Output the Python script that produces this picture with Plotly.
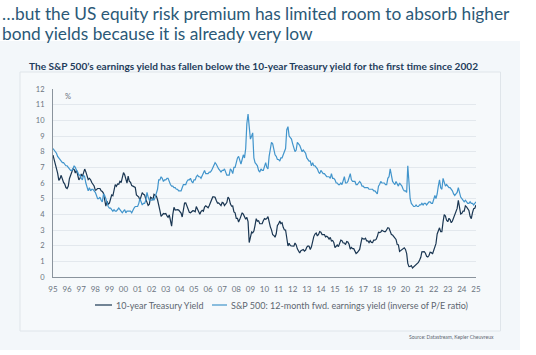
import plotly.graph_objects as go

# ---------------- data (monthly, Jan 1995 - Jan 2025) ----------------
treasury_10y = [
    # 1995
    7.78, 7.47, 7.20, 7.06, 6.63, 6.17, 6.28, 6.49, 6.20, 6.04, 5.93, 5.71,
    # 1996
    5.65, 5.81, 6.27, 6.51, 6.74, 6.91, 6.87, 6.64, 6.83, 6.53, 6.20, 6.30,
    # 1997
    6.58, 6.42, 6.69, 6.89, 6.71, 6.49, 6.22, 6.30, 6.21, 6.03, 5.88, 5.81,
    # 1998
    5.54, 5.57, 5.65, 5.64, 5.65, 5.50, 5.46, 5.34, 4.81, 4.53, 4.83, 4.65,
    # 1999
    4.72, 5.00, 5.23, 5.18, 5.54, 5.90, 5.79, 5.94, 5.92, 6.11, 6.03, 6.28,
    # 2000
    6.66, 6.52, 6.26, 5.99, 6.44, 6.10, 6.05, 5.83, 5.80, 5.74, 5.72, 5.24,
    # 2001
    5.16, 5.10, 4.89, 5.14, 5.39, 5.28, 5.24, 4.97, 4.73, 4.57, 4.65, 5.09,
    # 2002
    5.04, 4.91, 5.28, 5.21, 5.16, 4.93, 4.65, 4.26, 3.87, 3.94, 4.05, 4.03,
    # 2003
    4.05, 3.90, 3.81, 3.96, 3.57, 3.25, 3.98, 4.45, 4.27, 4.29, 4.30, 4.27,
    # 2004
    4.15, 4.08, 3.83, 4.35, 4.72, 4.73, 4.50, 4.28, 4.13, 4.10, 4.19, 4.23,
    # 2005
    4.22, 4.17, 4.50, 4.34, 4.14, 4.00, 4.18, 4.26, 4.20, 4.46, 4.54, 4.47,
    # 2006
    4.42, 4.57, 4.72, 4.99, 5.11, 5.11, 5.09, 4.88, 4.72, 4.73, 4.60, 4.56,
    # 2007
    4.76, 4.72, 4.56, 4.69, 4.75, 5.10, 5.00, 4.67, 4.52, 4.53, 4.15, 4.10,
    # 2008
    3.74, 3.74, 3.51, 3.68, 3.88, 4.10, 4.01, 3.89, 3.69, 3.81, 3.53, 2.20,
    # 2009
    2.52, 2.87, 2.82, 2.93, 3.29, 3.72, 3.56, 3.59, 3.40, 3.39, 3.40, 3.59,
    # 2010
    3.73, 3.69, 3.73, 3.85, 3.42, 3.20, 3.01, 2.70, 2.65, 2.54, 2.76, 3.29,
    # 2011
    3.39, 3.58, 3.41, 3.46, 3.17, 3.00, 3.00, 2.30, 1.98, 2.15, 2.01, 1.98,
    # 2012
    1.97, 1.97, 2.17, 2.05, 1.80, 1.62, 1.53, 1.68, 1.72, 1.75, 1.65, 1.72,
    # 2013
    1.91, 1.98, 1.96, 1.76, 1.93, 2.30, 2.58, 2.74, 2.81, 2.62, 2.72, 2.90,
    # 2014
    2.86, 2.71, 2.72, 2.71, 2.56, 2.60, 2.54, 2.42, 2.53, 2.30, 2.33, 2.21,
    # 2015
    1.88, 1.98, 2.04, 1.94, 2.20, 2.36, 2.32, 2.17, 2.17, 2.07, 2.26, 2.24,
    # 2016
    2.09, 1.78, 1.89, 1.81, 1.81, 1.64, 1.50, 1.56, 1.63, 1.76, 2.14, 2.49,
    # 2017
    2.43, 2.42, 2.48, 2.30, 2.30, 2.19, 2.32, 2.21, 2.20, 2.36, 2.35, 2.40,
    # 2018
    2.58, 2.86, 2.84, 2.87, 2.98, 2.91, 2.89, 2.89, 3.00, 3.15, 3.12, 2.83,
    # 2019
    2.71, 2.68, 2.57, 2.53, 2.40, 2.07, 2.06, 1.63, 1.70, 1.71, 1.81, 1.86,
    # 2020
    1.76, 1.50, 0.87, 0.66, 0.67, 0.73, 0.58, 0.65, 0.68, 0.79, 0.87, 0.93,
    # 2021
    1.08, 1.26, 1.61, 1.64, 1.62, 1.52, 1.32, 1.28, 1.37, 1.58, 1.56, 1.47,
    # 2022
    1.76, 1.93, 2.13, 2.75, 2.90, 3.14, 2.90, 2.90, 3.52, 3.98, 3.89, 3.62,
    # 2023
    3.53, 3.75, 3.66, 3.46, 3.57, 3.75, 3.90, 4.17, 4.38, 4.90, 4.50, 4.02,
    # 2024
    4.06, 4.21, 4.21, 4.54, 4.48, 4.31, 4.25, 3.87, 3.72, 4.10, 4.36, 4.39,
    # 2025
    4.60,
]

sp500_earnings_yield = [
    # 1995
    8.2, 8.1, 8.0, 7.9, 7.7, 7.6, 7.5, 7.4, 7.3, 7.3, 7.2, 7.1,
    # 1996
    7.1, 7.0, 6.9, 6.8, 6.8, 6.9, 7.1, 7.0, 6.8, 6.7, 6.5, 6.5,
    # 1997
    6.3, 6.2, 6.5, 6.4, 6.0, 5.8, 5.5, 5.7, 5.5, 5.6, 5.6, 5.5,
    # 1998
    5.4, 5.2, 5.0, 5.0, 5.1, 4.9, 4.8, 5.3, 5.2, 5.0, 4.7, 4.5,
    # 1999
    4.4, 4.4, 4.3, 4.2, 4.3, 4.2, 4.2, 4.3, 4.4, 4.3, 4.2, 4.1,
    # 2000
    4.2, 4.3, 4.1, 4.2, 4.2, 4.2, 4.2, 4.1, 4.3, 4.4, 4.5, 4.5,
    # 2001
    4.5, 4.7, 5.0, 4.8, 4.6, 4.7, 4.7, 4.9, 5.4, 5.1, 4.9, 4.9,
    # 2002
    4.9, 5.0, 4.9, 5.1, 5.3, 5.6, 6.2, 6.2, 6.4, 6.3, 6.1, 6.2,
    # 2003
    6.2, 6.3, 6.3, 6.0, 5.9, 5.8, 5.8, 5.7, 5.7, 5.6, 5.6, 5.5,
    # 2004
    5.5, 5.5, 5.7, 5.9, 5.9, 5.9, 6.1, 6.2, 6.2, 6.3, 6.1, 6.0,
    # 2005
    6.2, 6.2, 6.4, 6.5, 6.4, 6.4, 6.3, 6.5, 6.6, 6.8, 6.6, 6.6,
    # 2006
    6.6, 6.7, 6.7, 6.8, 7.0, 7.1, 7.3, 7.2, 7.0, 6.9, 6.8, 6.7,
    # 2007
    6.8, 6.8, 6.9, 6.6, 6.5, 6.5, 6.5, 6.9, 6.8, 6.6, 7.0, 7.0,
    # 2008
    7.4, 7.6, 7.7, 7.4, 7.2, 7.5, 7.8, 7.6, 8.2, 9.8, 10.4, 9.6,
    # 2009
    8.8, 9.0, 9.2, 7.6, 7.3, 7.2, 7.1, 6.8, 6.7, 6.9, 6.8, 6.8,
    # 2010
    7.1, 7.3, 7.0, 6.9, 7.7, 8.2, 8.6, 8.5, 8.1, 7.8, 7.7, 7.5,
    # 2011
    7.5, 7.4, 7.6, 7.6, 7.8, 8.1, 8.2, 9.4, 9.6, 9.0, 8.9, 8.8,
    # 2012
    8.5, 8.2, 8.0, 8.1, 8.6, 8.5, 8.4, 8.2, 8.0, 8.1, 8.0, 7.9,
    # 2013
    7.6, 7.5, 7.4, 7.4, 7.1, 7.3, 7.1, 7.1, 7.0, 6.9, 6.7, 6.6,
    # 2014
    6.8, 6.7, 6.6, 6.6, 6.5, 6.4, 6.4, 6.4, 6.3, 6.6, 6.3, 6.3,
    # 2015
    6.2, 6.0, 6.0, 5.9, 5.9, 6.0, 5.9, 6.2, 6.4, 6.0, 6.0, 6.1,
    # 2016
    6.4, 6.6, 6.2, 6.1, 6.1, 6.1, 5.9, 5.9, 6.0, 6.1, 6.0, 5.8,
    # 2017
    5.8, 5.7, 5.7, 5.7, 5.7, 5.6, 5.6, 5.6, 5.6, 5.5, 5.5, 5.4,
    # 2018
    5.3, 5.8, 5.9, 6.1, 6.0, 6.0, 6.0, 5.9, 5.9, 6.3, 6.4, 6.9,
    # 2019
    6.4, 6.1, 6.0, 5.9, 6.1, 5.9, 5.8, 6.0, 5.9, 5.8, 5.6, 5.5,
    # 2020
    5.5, 5.4, 7.1, 5.6, 5.0, 4.7, 4.6, 4.5, 4.5, 4.6, 4.5, 4.5,
    # 2021
    4.6, 4.6, 4.7, 4.6, 4.7, 4.7, 4.6, 4.7, 4.8, 4.8, 4.7, 4.7,
    # 2022
    4.9, 5.2, 5.0, 5.3, 5.8, 6.2, 5.7, 5.6, 6.3, 6.1, 5.8, 5.9,
    # 2023
    5.8, 5.7, 5.7, 5.6, 5.5, 5.3, 5.2, 5.3, 5.4, 5.7, 5.4, 5.1,
    # 2024
    5.0, 4.9, 4.8, 4.9, 4.8, 4.7, 4.7, 4.8, 4.7, 4.7, 4.6, 4.7,
    # 2025
    4.8,
]

dates = [f"{1995 + i // 12}-{i % 12 + 1:02d}-01" for i in range(len(treasury_10y))]

year_ticks = list(range(1995, 2026))
tick_labels = [f"{y % 100:02d}" for y in year_ticks]
tick_vals = [f"{y}-01-01" for y in year_ticks]

series_names = ["10-year Treasury Yield",
                "S&P 500: 12-month fwd. earnings yield (inverse of P/E ratio)"]

# ---------------- styling ----------------
W, H = 536, 355
L, R, T, B = 53, 60, 89, 78
PW, PH = W - L - R, H - T - B

def px(x):
    return (x - L) / PW

def py(y):
    return (H - B - y) / PH

NAVY = "#1a3652"
LIGHT = "#4295cc"
FONT = "Lato"

fig = go.Figure()
fig.add_trace(go.Scatter(x=dates, y=treasury_10y, mode="lines", name=series_names[0],
                         line=dict(color=NAVY, width=1.2), showlegend=False))
fig.add_trace(go.Scatter(x=dates, y=sp500_earnings_yield, mode="lines", name=series_names[1],
                         line=dict(color=LIGHT, width=1.2), showlegend=False))

shapes = [
    # outer light panel
    dict(type="rect", xref="paper", yref="paper", x0=px(0), x1=px(520), y0=py(350), y1=py(41),
         fillcolor="#f3f7fa", line=dict(width=0), layer="below"),
    # inner bordered box
    dict(type="rect", xref="paper", yref="paper", x0=px(20), x1=px(500.5), y0=py(331), y1=py(72),
         fillcolor="#f6f9fb", line=dict(color="#dfe5ea", width=1), layer="below"),
    # legend swatches
    dict(type="line", xref="paper", yref="paper", x0=px(95), x1=px(112), y0=py(305), y1=py(305),
         line=dict(color=NAVY, width=1.2)),
    dict(type="line", xref="paper", yref="paper", x0=px(212), x1=px(227), y0=py(305), y1=py(305),
         line=dict(color=LIGHT, width=1.2)),
]

annotations = [
    dict(text="\u2026but the US equity risk premium has limited room to absorb higher",
         x=px(0), y=py(14), xref="paper", yref="paper", xanchor="left", yanchor="middle",
         showarrow=False, font=dict(family=FONT, size=17.3, color="#2b5977")),
    dict(text="bond yields because it is already very low",
         x=px(0), y=py(33), xref="paper", yref="paper", xanchor="left", yanchor="middle",
         showarrow=False, font=dict(family=FONT, size=17.3, color="#2b5977")),
    dict(text="<b>The S&P 500\u2019s earnings yield has fallen below the 10-year Treasury yield for the first time since 2002</b>",
         x=px(253.5), y=py(66), xref="paper", yref="paper", xanchor="center", yanchor="middle",
         showarrow=False, font=dict(family=FONT, size=10.1, color="#1f3d5c")),
    dict(text="%", x=px(63), y=py(97), xref="paper", yref="paper", xanchor="left", yanchor="middle",
         showarrow=False, font=dict(family=FONT, size=7.5, color="#6b7480")),
    dict(text=series_names[0], x=px(114), y=py(305), xref="paper", yref="paper",
         xanchor="left", yanchor="middle", showarrow=False,
         font=dict(family=FONT, size=9, color="#5d6670")),
    dict(text=series_names[1], x=px(229), y=py(305), xref="paper", yref="paper",
         xanchor="left", yanchor="middle", showarrow=False,
         font=dict(family=FONT, size=9, color="#5d6670")),
    dict(text="Source: Datastream, Kepler Cheuvreux", x=px(496), y=py(337), xref="paper", yref="paper",
         xanchor="right", yanchor="middle", showarrow=False,
         font=dict(family=FONT, size=5, color="#5d6670")),
]

fig.update_layout(
    width=W, height=H,
    margin=dict(l=L, r=R, t=T, b=B, pad=0),
    paper_bgcolor="white",
    plot_bgcolor="rgba(0,0,0,0)",
    shapes=shapes,
    annotations=annotations,
    font=dict(family=FONT, size=8, color="#6b7480"),
    hovermode=False,
    xaxis=dict(type="date", range=["1995-01-01", "2025-01-01"],
               tickvals=tick_vals, ticktext=tick_labels, tickangle=0,
               showgrid=False, zeroline=False,
               showline=True, linecolor="#8a939c", linewidth=1,
               ticks="outside", ticklen=4, tickcolor="rgba(0,0,0,0)",
               tickfont=dict(family=FONT, size=8, color="#6b7480")),
    yaxis=dict(range=[0, 12], dtick=1, tick0=0,
               showgrid=True, gridcolor="#e3e8ed", gridwidth=1,
               zeroline=False, showline=True, linecolor="#8a939c", linewidth=1,
               ticks="outside", ticklen=6, tickcolor="rgba(0,0,0,0)",
               tickfont=dict(family=FONT, size=7.5, color="#6b7480")),
    showlegend=False,
)

fig.write_html(
    "out.html",
    config=dict(displayModeBar=False, staticPlot=True),
    post_script="document.body.style.margin='0';document.body.style.overflow='hidden';",
)
